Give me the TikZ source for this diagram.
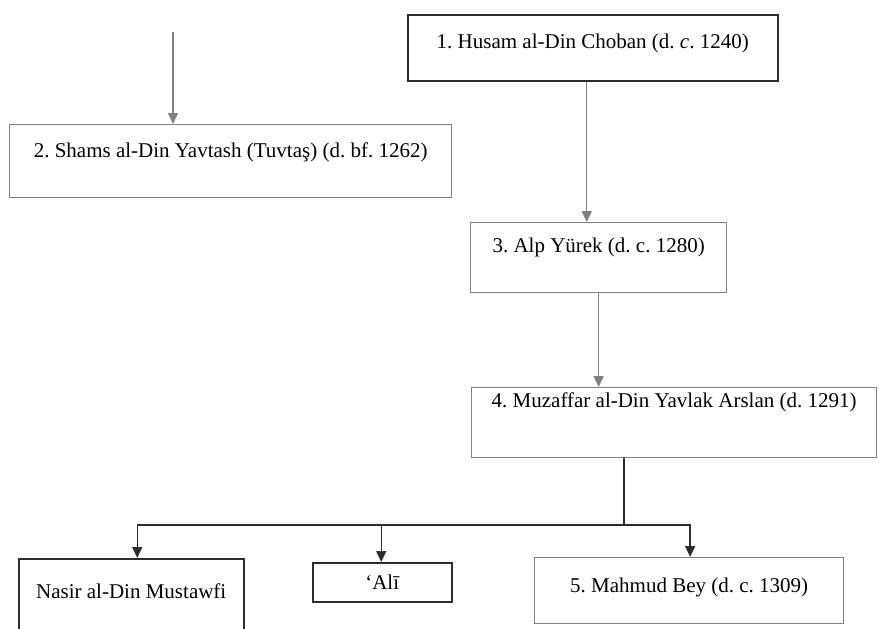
\documentclass[tikz,border=0pt]{standalone}
\usepackage{fontspec}
\setmainfont{Liberation Serif}
\usepackage{tikz}
\usetikzlibrary{arrows.meta}
\definecolor{boxdark}{RGB}{45,45,45}
\definecolor{boxgrey}{RGB}{128,128,128}
\frenchspacing

\begin{document}
\begin{tikzpicture}[x=1pt, y=-1pt,
        font=\fontsize{21}{25}\selectfont,
        darkbox/.style={draw=boxdark, line width=1.5pt, anchor=north west, inner xsep=0pt, inner ysep=0pt},
        greybox/.style={draw=boxgrey, line width=1.3pt, anchor=north west, inner xsep=0pt, inner ysep=0pt},
        garrow/.style={-{Triangle[length=11pt, width=10pt]}, boxgrey, line width=1.3pt},
        darrow/.style={-{Triangle[length=11pt, width=10pt]}, boxdark, line width=1.4pt}]
    \useasboundingbox (0,0) rectangle (879,629);

    % line of descent
    \node[darkbox, minimum width=370pt, text height=34pt, text depth=32pt] (husam) at (407,14)
        {1. Husam al-Din Choban (d. \textit{c}. 1240)};
    \node[greybox, minimum width=442pt, text height=33pt, text depth=40pt] (shams) at (9,124)
        {2. Shams al-Din Yavtash (Tuvtaş) (d. bf. 1262)};
    \node[greybox, minimum width=256pt, text height=30pt, text depth=40pt] (alp) at (470,222)
        {3. Alp Yürek (d. c. 1280)};
    \node[greybox, minimum width=405pt, text height=20pt, text depth=50pt] (muzaffar) at (471,387)
        {4. Muzaffar al-Din Yavlak Arslan (d. 1291)};

    % sons of Muzaffar al-Din
    \node[darkbox, minimum width=225pt, text height=40pt, text depth=45pt] (nasir) at (18,558)
        {Nasir al-Din Mustawfi};
    \node[darkbox, minimum width=139pt, text height=27pt, text depth=12pt] (ali) at (312,562)
        {‘Alī};
    \node[greybox, minimum width=309pt, text height=35pt, text depth=31pt] (mahmud) at (534,557)
        {5. Mahmud Bey (d. c. 1309)};

    \coordinate (above) at (173,32);
    \coordinate (fork) at (624,525);

    \draw[garrow] (above) -- (above |- shams.north);
    \draw[garrow] ([xshift=-6pt]husam.south) -- ([xshift=-6pt]husam.south |- alp.north);
    \draw[garrow] (alp.south) -- (alp.south |- muzaffar.north);

    \draw[boxdark, line width=1.4pt] (muzaffar.south -| fork) -- (fork);
    \draw[darrow] (fork) -| ([xshift=6pt]nasir.north);
    \draw[darrow] (fork) -| ([xshift=-1pt]ali.north);
    \draw[darrow] (fork) -| ([xshift=1pt]mahmud.north);
\end{tikzpicture}
\end{document}
